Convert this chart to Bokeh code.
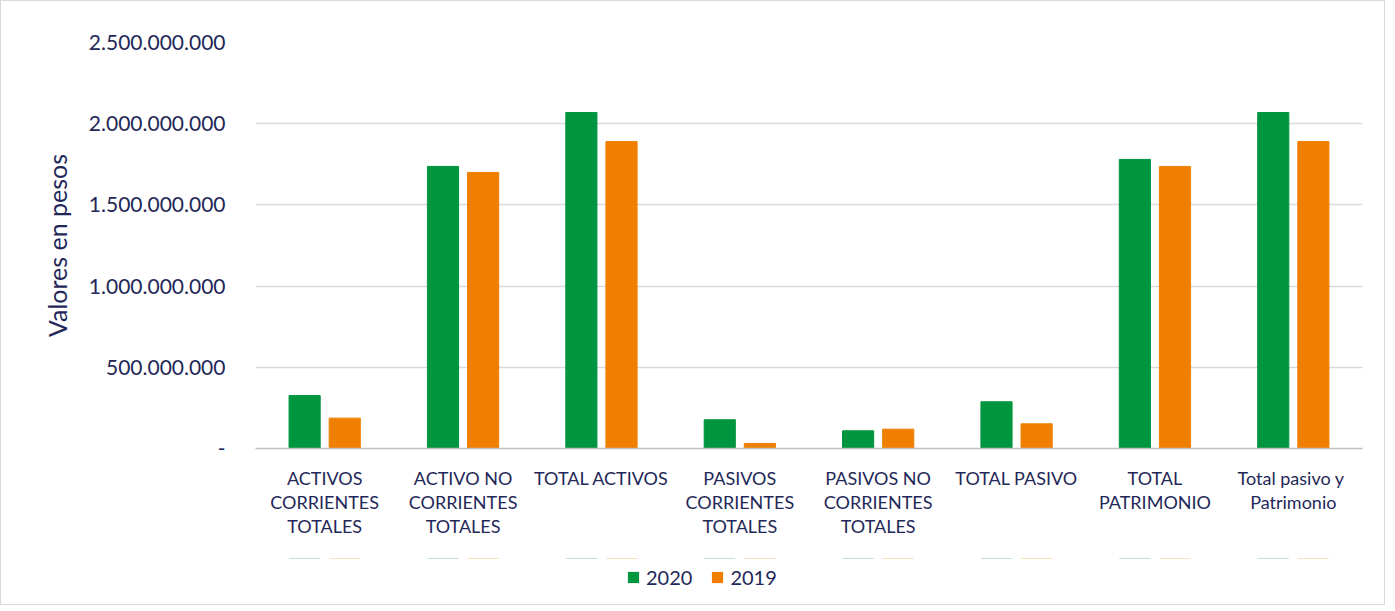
from bokeh.plotting import figure
from bokeh.layouts import column
from bokeh.models import (ColumnDataSource, FactorRange, Range1d, FixedTicker,
                          Legend, LegendItem)
from bokeh.transform import dodge
from bokeh.embed import file_html
from bokeh.resources import INLINE

categories = ["ACTIVOS\nCORRIENTES\nTOTALES", "ACTIVO NO\nCORRIENTES\nTOTALES",
              "TOTAL ACTIVOS", "PASIVOS\nCORRIENTES\nTOTALES",
              "PASIVOS NO\nCORRIENTES\nTOTALES", "TOTAL PASIVO",
              "TOTAL\nPATRIMONIO", "Total pasivo  y\nPatrimonio"]
values_2020 = [326e6, 1737e6, 2069e6, 177e6, 109e6, 288e6, 1780e6, 2069e6]
values_2019 = [187e6, 1700e6, 1890e6, 31e6, 119e6, 152e6, 1737e6, 1890e6]
series_names = ["2020", "2019"]
y_ticks = [0, 500000000, 1000000000, 1500000000, 2000000000, 2500000000]

GREEN = "#00953F"
ORANGE = "#F07F00"
TXT = "#1F2858"
FONT = "Lato"

src = ColumnDataSource(dict(cat=categories, v20=values_2020, v19=values_2019))

p = figure(x_range=FactorRange(*categories), y_range=Range1d(0, 2500000000),
           frame_width=1107, frame_height=406, output_backend="svg",
           toolbar_location=None,
           min_border_left=254, min_border_right=22, min_border_top=41,
           min_border_bottom=110)
p.outline_line_color = None
p.x_range.range_padding = 0

p.vbar(x=dodge("cat", -0.145, range=p.x_range), top="v20", width=0.225,
       source=src, color=GREEN)
p.vbar(x=dodge("cat", 0.145, range=p.x_range), top="v19", width=0.225,
       source=src, color=ORANGE)

# y axis
p.yaxis.ticker = FixedTicker(ticks=y_ticks)
p.yaxis.major_label_overrides = {
    t: ("-" if t == 0 else f"{t:,}".replace(",", ".")) for t in y_ticks}
p.yaxis.axis_line_color = None
p.yaxis.major_tick_line_color = None
p.yaxis.minor_tick_line_color = None
p.yaxis.major_label_text_font = FONT
p.yaxis.major_label_text_font_size = "21px"
p.yaxis.major_label_text_color = TXT
p.yaxis.major_label_standoff = 24
p.yaxis.axis_label = "Valores en pesos"
p.yaxis.axis_label_text_font = FONT
p.yaxis.axis_label_text_font_size = "25px"
p.yaxis.axis_label_text_font_style = "normal"
p.yaxis.axis_label_text_color = TXT
p.yaxis.axis_label_standoff = 14

# x axis
p.xaxis.axis_line_color = "#bfbfbf"
p.xaxis.axis_line_width = 1.5
p.xaxis.major_tick_line_color = None
p.xaxis.minor_tick_line_color = None
p.xaxis.major_label_text_font = FONT
p.xaxis.major_label_text_font_size = "18px"
p.xaxis.major_label_text_color = TXT
p.xaxis.major_label_standoff = 12
p.xaxis.major_label_orientation = "horizontal"
p.xaxis.major_label_text_line_height = 1.1

p.xgrid.grid_line_color = None
p.ygrid.grid_line_color = "#d9d9d9"
p.ygrid.grid_line_width = 1.5

# legend strip below the chart (proxy renderers lie well outside its visible range)
pl = figure(x_range=p.x_range, y_range=Range1d(-3000000000, -2900000000),
            frame_width=1107, frame_height=42, output_backend="svg",
            toolbar_location=None, x_axis_type=None, y_axis_type=None,
            min_border_left=254, min_border_right=22, min_border_top=0,
            min_border_bottom=4)
pl.outline_line_color = None
pl.xgrid.grid_line_color = None
pl.ygrid.grid_line_color = None
lr1 = pl.vbar(x=dodge("cat", -0.145, range=p.x_range), top="v20", width=0.225,
              source=src, fill_color=GREEN, line_color=None)
lr2 = pl.vbar(x=dodge("cat", 0.145, range=p.x_range), top="v19", width=0.225,
              source=src, fill_color=ORANGE, line_color=None)

legend = Legend(items=[LegendItem(label=series_names[0], renderers=[lr1]),
                       LegendItem(label=series_names[1], renderers=[lr2])],
                orientation="horizontal", location=(371, 11),
                label_text_font=FONT, label_text_font_size="20px",
                label_text_color=TXT, glyph_width=14, glyph_height=14,
                spacing=18, label_standoff=6, border_line_color=None,
                background_fill_alpha=0, padding=2, margin=0)
pl.add_layout(legend, "center")

layout = column(p, pl, spacing=0, styles={"border": "1px solid #d9d9d9"})

open("out.html", "w").write(file_html(layout, INLINE))
